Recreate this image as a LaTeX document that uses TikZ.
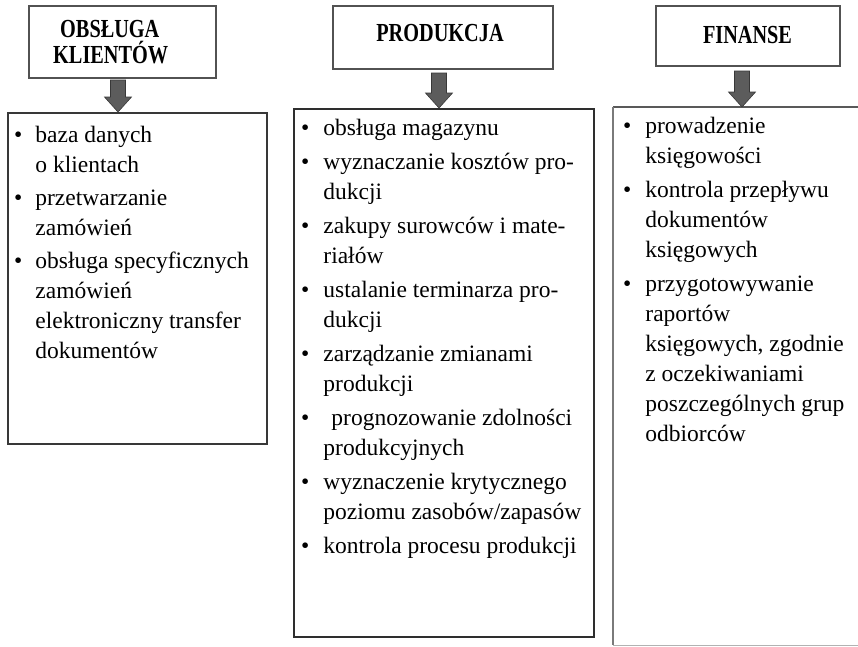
\documentclass[tikz,border=0pt]{standalone}
\usepackage{fontspec}
\usepackage{graphicx}
\setmainfont{Liberation Serif}
\usetikzlibrary{calc}
\newcommand\bodyfnt{\fontsize{23.5}{30}\selectfont}
\newcommand\hdr[1]{\scalebox{0.78}[1]{\bfseries\fontsize{26}{26}\selectfont #1}}
\tikzset{
  hdrbox/.style={draw=black!68, line width=1.8pt, anchor=north west, inner sep=0pt},
  listbox/.style={draw=black!78, line width=1.5pt, anchor=north west, inner sep=0pt},
  hdrtext/.style={inner sep=0pt},
  listtext/.style={font=\bodyfnt, anchor=base west, inner sep=0pt, align=left},
  blockarrow/.style={fill=black!64, draw=black!78, line width=0.6pt},
}
\newcommand\blockarr[2]{%
  \filldraw[blockarrow] ($(#1)+(-7.5,0)$) -- ($(#1)+(7.5,0)$) -- ($(#2)+(7.5,-15)$)
    -- ($(#2)+(13.5,-15)$) -- (#2) -- ($(#2)+(-13.5,-15)$) -- ($(#2)+(-7.5,-15)$) -- cycle;}
\begin{document}
\begin{tikzpicture}[x=1pt,y=-1pt]
\clip (0,0) rectangle (858,646);
\fill[white] (0,0) rectangle (858,646);

% header boxes
\node[hdrbox, minimum width=187pt, minimum height=72pt] (h1) at (28,5) {};
\node[hdrbox, minimum width=220pt, minimum height=63pt] (h2) at (332,5) {};
\node[hdrbox, minimum width=184pt, minimum height=60pt] (h3) at (655,5) {};

\node[hdrtext, anchor=base west] (ht1a) at (60,37) {\hdr{OBSŁUGA}};
\node[hdrtext, anchor=base west] (ht1b) at (53,63) {\hdr{KLIENTÓW}};
\node[hdrtext, anchor=base] (ht2) at (440,41) {\hdr{PRODUKCJA}};
\node[hdrtext, anchor=base] (ht3) at (747.5,43) {\hdr{FINANSE}};

% list boxes
\node[listbox, minimum width=259pt, minimum height=331pt] (l1) at (7,112) {};
\node[listbox, line width=1.8pt, draw=black!82, minimum width=300pt, minimum height=528pt] (l2) at (293,108) {};
\coordinate (l3nw) at (613,107);
\coordinate (l3ne) at (870,107);
\coordinate (l3sw) at (613,645);
\coordinate (l3se) at (870,645);
\draw[draw=black!30, line width=1pt] (l3sw) -- (l3se);
\draw[draw=black!65, line width=1.5pt] (l3nw) -- (l3ne);
\draw[draw=black!52, line width=2.5pt] (l3nw) -- (l3sw);

% arrows
\coordinate (a1s) at (118,80);  \coordinate (a1e) at (118,112);
\coordinate (a2s) at (439,73);  \coordinate (a2e) at (439,108);
\coordinate (a3s) at (742,71);  \coordinate (a3e) at (742,107);
\blockarr{a1s}{a1e}
\blockarr{a2s}{a2e}
\blockarr{a3s}{a3e}

% list texts
\node[listtext] (t1) at (14,142) {\begin{tabular}[t]{@{}l@{\hspace{13pt}}l@{}}
\textbullet & baza danych\\
 & o klientach\\[3pt]
\textbullet & przetwarzanie\\
 & zamówień\\[3pt]
\textbullet & obsługa specyficznych\\
 & zamówień\\
 & elektroniczny transfer\\
 & dokumentów
\end{tabular}};

\node[listtext] (t2) at (301,135) {\begin{tabular}[t]{@{}l@{\hspace{14pt}}l@{}}
\textbullet & obsługa magazynu\\[4pt]
\textbullet & wyznaczanie kosztów pro-\\
 & dukcji\\[4pt]
\textbullet & zakupy surowców i mate-\\
 & riałów\\[4pt]
\textbullet & ustalanie terminarza pro-\\
 & dukcji\\[4pt]
\textbullet & zarządzanie zmianami\\
 & produkcji\\[4pt]
\textbullet & \hspace{8pt}prognozowanie zdolności\\
 & produkcyjnych\\[4pt]
\textbullet & wyznaczenie krytycznego\\
 & poziomu zasobów/zapasów\\[4pt]
\textbullet & kontrola procesu produkcji
\end{tabular}};

\node[listtext] (t3) at (623,133) {\begin{tabular}[t]{@{}l@{\hspace{14pt}}l@{}}
\textbullet & prowadzenie\\
 & księgowości\\[4pt]
\textbullet & kontrola przepływu\\
 & dokumentów\\
 & księgowych\\[4pt]
\textbullet & przygotowywanie\\
 & raportów\\
 & księgowych, zgodnie\\
 & z oczekiwaniami\\
 & poszczególnych grup\\
 & odbiorców
\end{tabular}};
\end{tikzpicture}
\end{document}
